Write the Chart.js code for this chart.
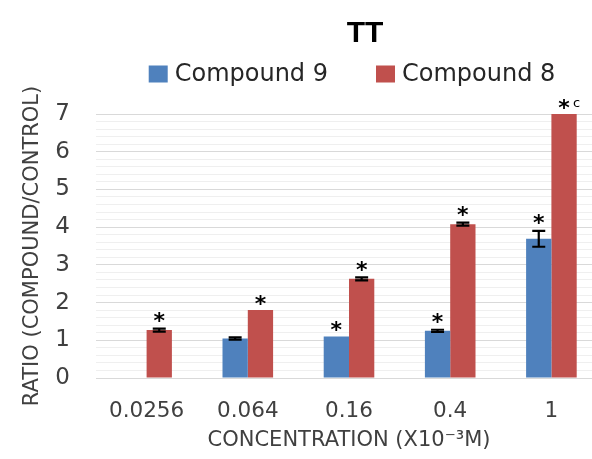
<!DOCTYPE html>
<html><head><meta charset="utf-8">
<script src="https://cdn.jsdelivr.net/npm/chart.js@4"></script>
<style>html,body{margin:0;padding:0;overflow:hidden;background:#fff}canvas{display:block}</style>
</head><body>
<canvas id="c" width="704" height="459"></canvas>
<script>
const chartTitle = 'TT';
const categories = ['0.0256', '0.064', '0.16', '0.4', '1'];
const seriesNames = ['Compound 9', 'Compound 8'];
const seriesColors = ['#4F81BD', '#C0504D'];
const compound9 = [null, 1.05, 1.1, 1.25, 3.69];
const compound8 = [1.27, 1.8, 2.63, 4.08, 7.0];
const error9 = [0, 0.03, 0, 0.03, 0.21];
const error8 = [0.04, 0, 0.04, 0.04, 0];
const marks9 = ['', '', '*', '*', '*'];
const marks8 = ['*', '*', '*', '*', '*c'];
const yTickLabels = ['0', '1', '2', '3', '4', '5', '6', '7'];
const yAxisTitle = 'RATIO (COMPOUND/CONTROL)';
const xAxisTitle = 'CONCENTRATION (X10\u207B\u00B3M)';

const FONT = '"DejaVu Sans"';

const headerPlugin = {
  id: 'header',
  afterDraw(chart) {
    const ctx = chart.ctx;
    ctx.save();
    ctx.font = 'bold 30px "Liberation Sans"';
    ctx.fillStyle = '#000';
    ctx.textAlign = 'center';
    ctx.textBaseline = 'middle';
    ctx.fillText(chartTitle, 365, 34);
    // legend
    ctx.font = '24px ' + FONT;
    ctx.textAlign = 'left';
    const boxW = 19, boxH = 17, gap = 7, spacing = 48;
    const widths = seriesNames.map(n => ctx.measureText(n).width);
    const total = widths.reduce((a, w) => a + boxW + gap + w, 0) + spacing;
    let x = 352 - total / 2;
    const cy = 74;
    seriesNames.forEach((n, i) => {
      ctx.fillStyle = seriesColors[i];
      ctx.fillRect(x, cy - boxH / 2, boxW, boxH);
      ctx.fillStyle = '#262626';
      ctx.fillText(n, x + boxW + gap, cy + 1);
      x += boxW + gap + widths[i] + spacing;
    });
    ctx.restore();
  }
};

const annotPlugin = {
  id: 'annot',
  afterDatasetsDraw(chart) {
    const ctx = chart.ctx, y = chart.scales.y;
    [[0, error9, marks9], [1, error8, marks8]].forEach(([di, errs, marks]) => {
      const meta = chart.getDatasetMeta(di);
      const vals = chart.data.datasets[di].data;
      meta.data.forEach((bar, i) => {
        const v = vals[i];
        if (v == null) return;
        const e = errs[i];
        let top = y.getPixelForValue(v);
        if (e > 0) {
          const y1 = y.getPixelForValue(v + e), y2 = y.getPixelForValue(v - e);
          ctx.save();
          ctx.strokeStyle = '#000';
          ctx.lineWidth = 2.2;
          ctx.beginPath();
          ctx.moveTo(bar.x, y1); ctx.lineTo(bar.x, y2);
          ctx.moveTo(bar.x - 6.5, y1); ctx.lineTo(bar.x + 6.5, y1);
          ctx.moveTo(bar.x - 6.5, y2); ctx.lineTo(bar.x + 6.5, y2);
          ctx.stroke();
          ctx.restore();
          top = y1 - 1;
        }
        const m = marks[i];
        if (!m) return;
        ctx.save();
        ctx.fillStyle = '#000';
        ctx.textBaseline = 'alphabetic';
        ctx.textAlign = 'center';
        ctx.font = 'bold 22px ' + FONT;
        const base = top + 0.5;
        ctx.fillText(m[0], bar.x, base);
        if (m.length > 1) {
          ctx.font = '13px ' + FONT;
          ctx.textAlign = 'left';
          ctx.fillText(m.slice(1), bar.x + 9, base - 8);
        }
        ctx.restore();
      });
    });
  }
};

new Chart(document.getElementById('c'), {
  type: 'bar',
  data: {
    labels: categories,
    datasets: [
      { label: seriesNames[0], data: compound9, backgroundColor: seriesColors[0], categoryPercentage: 0.5, barPercentage: 1.0 },
      { label: seriesNames[1], data: compound8, backgroundColor: seriesColors[1], categoryPercentage: 0.5, barPercentage: 1.0 }
    ]
  },
  options: {
    responsive: false,
    animation: false,
    layout: { padding: { top: 114, right: 102, left: 0, bottom: 0 } },
    plugins: {
      legend: { display: false },
      title: { display: false },
      tooltip: { enabled: false }
    },
    scales: {
      x: {
        grid: { display: false, drawTicks: false },
        border: { display: false },
        ticks: { font: { family: 'DejaVu Sans', size: 21.5 }, color: '#404040', padding: 21 },
        title: { display: true, text: xAxisTitle, font: { family: 'DejaVu Sans', size: 21 }, color: '#404040', padding: { top: 0, bottom: 6 } },
        afterFit(s) { s.height = 81; }
      },
      y: {
        min: 0, max: 7,
        grid: {
          drawTicks: false,
          color(ctx) {
            const v = ctx.tick ? ctx.tick.value : 0;
            return Math.abs(v - Math.round(v)) < 1e-6 ? '#d9d9d9' : '#efefef';
          },
          lineWidth: 1
        },
        border: { display: false },
        ticks: {
          stepSize: 0.2, autoSkip: false,
          font: { family: 'DejaVu Sans', size: 23 }, color: '#404040', padding: 26,
          callback(v) {
            return Math.abs(v - Math.round(v)) < 1e-6 ? yTickLabels[Math.round(v)] : '';
          }
        },
        title: { display: true, text: yAxisTitle, font: { family: 'DejaVu Sans', size: 21 }, color: '#404040', padding: { top: 20, bottom: 0 } },
        afterFit(s) { s.width = 96; }
      }
    }
  },
  plugins: [headerPlugin, annotPlugin]
});
</script>
</body></html>
